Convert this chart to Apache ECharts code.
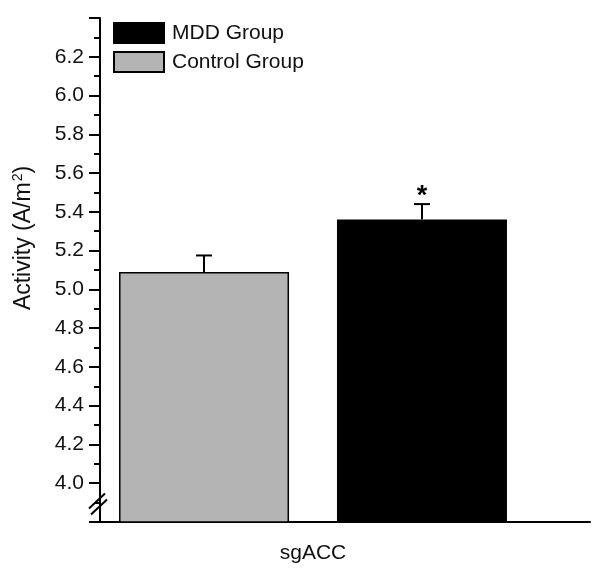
<!DOCTYPE html>
<html>
<head>
<meta charset="utf-8">
<script src="https://cdn.jsdelivr.net/npm/echarts@6/dist/echarts.min.js"></script>
<style>
  html, body { margin: 0; padding: 0; background: #fff; }
  #main { width: 601px; height: 579px; }
</style>
</head>
<body>
<div id="main"></div>
<script>
var chartDom = document.getElementById('main');
var myChart = echarts.init(chartDom);

// data
const categories = ['sgACC'];
const controlMean = [5.09];
const controlUpper = [5.175];
const mddMean = [5.36];
const mddUpper = [5.44];
const yTicks = [4.0, 4.2, 4.4, 4.6, 4.8, 5.0, 5.2, 5.4, 5.6, 5.8, 6.0, 6.2];

const font = 'Liberation Sans';
const barW = 170;
const gapPx = 48;
const half = (barW + gapPx) / 2;

function errorSeries(name, mean, upper, offset, star) {
    return {
        name: name + ' err',
        type: 'custom',
        z: 5,
        data: mean.map((m, i) => [i, m, upper[i]]),
        renderItem: function (params, api) {
            const base = api.coord([api.value(0), api.value(1)]);
            const top = api.coord([api.value(0), api.value(2)]);
            const x = base[0] + offset;
            const style = { stroke: '#000', lineWidth: 2 };
            const children = [
                { type: 'line', shape: { x1: x, y1: base[1], x2: x, y2: top[1] }, style: style },
                { type: 'line', shape: { x1: x - 8, y1: top[1], x2: x + 8, y2: top[1] }, style: style }
            ];
            if (star) {
                children.push({
                    type: 'text',
                    style: {
                        text: '*', x: x, y: top[1] - 8,
                        align: 'center', verticalAlign: 'middle',
                        font: 'bold 27px "' + font + '"', fill: '#000'
                    }
                });
            }
            return { type: 'group', children: children };
        }
    };
}

let option = {
    backgroundColor: '#fff',
    animation: false,
    textStyle: { fontFamily: font },
    legend: {
        orient: 'vertical',
        left: 108,
        top: 17,
        itemWidth: 50,
        itemHeight: 20,
        itemGap: 7,
        icon: 'rect',
        data: ['MDD Group', 'Control Group'],
        textStyle: { fontSize: 21, color: '#111', fontFamily: font, padding: [0, 0, 0, 3] }
    },
    grid: [
        { left: 100, right: 75, top: 18, bottom: 57 },
        { left: 91, right: 11, top: 18, bottom: 57 }
    ],
    xAxis: [
        {
            type: 'category',
            gridIndex: 0,
            data: categories,
            axisLine: { show: false },
            axisTick: { show: false },
            axisLabel: { margin: 21, fontSize: 21, color: '#111', fontFamily: font }
        },
        {
            type: 'category',
            gridIndex: 1,
            data: [''],
            axisLine: { show: true, lineStyle: { color: '#000', width: 2 } },
            axisTick: { show: false },
            axisLabel: { show: false }
        }
    ],
    yAxis: [
        {
            type: 'value',
            gridIndex: 0,
            min: 3.8,
            max: 6.4,
            interval: 0.2,
            name: 'Activity (A/m{sup|2})',
            nameLocation: 'middle',
            nameRotate: 90,
            nameGap: 64,
            nameTextStyle: {
                fontSize: 23, color: '#111', fontFamily: font,
                padding: [0, 0, 0, 64],
                rich: { sup: { fontSize: 14, verticalAlign: 'top', padding: [0, 0, 11, 1], color: '#111' } }
            },
            axisLine: { show: true, lineStyle: { color: '#000', width: 2 } },
            axisTick: { show: true, length: 11, lineStyle: { color: '#000', width: 2 } },
            minorTick: { show: true, splitNumber: 2, length: 6, lineStyle: { color: '#000', width: 2 } },
            splitLine: { show: false },
            axisLabel: {
                margin: 16,
                fontSize: 21,
                color: '#111',
                fontFamily: font,
                formatter: function (v) {
                    const hit = yTicks.find(t => Math.abs(t - v) < 1e-6);
                    return hit === undefined ? '' : hit.toFixed(1);
                }
            }
        },
        {
            type: 'value',
            gridIndex: 1,
            show: false
        }
    ],
    series: [
        {
            name: 'Control Group',
            type: 'bar',
            xAxisIndex: 0,
            yAxisIndex: 0,
            data: controlMean,
            barWidth: barW,
            barGap: (gapPx / barW * 100).toFixed(1) + '%',
            itemStyle: { color: '#b4b4b4', borderColor: '#000', borderWidth: 1.5 }
        },
        {
            name: 'MDD Group',
            type: 'bar',
            xAxisIndex: 0,
            yAxisIndex: 0,
            data: mddMean,
            barWidth: barW,
            itemStyle: { color: '#000', borderColor: '#000', borderWidth: 1.5 }
        },
        errorSeries('Control Group', controlMean, controlUpper, -half, false),
        errorSeries('MDD Group', mddMean, mddUpper, half, true)
    ]
};

option && myChart.setOption(option);

// axis break marks "//" near the bottom of the y axis
const yb = myChart.convertToPixel({ yAxisIndex: 0 }, 3.89);
const xb = 100;
myChart.setOption({
    graphic: [
        { type: 'line', z: 10, shape: { x1: xb - 11, y1: yb + 4, x2: xb + 5, y2: yb - 11 }, style: { stroke: '#000', lineWidth: 2 } },
        { type: 'line', z: 10, shape: { x1: xb - 9, y1: yb + 10, x2: xb + 7, y2: yb - 5 }, style: { stroke: '#000', lineWidth: 2 } }
    ]
});
</script>
</body>
</html>
